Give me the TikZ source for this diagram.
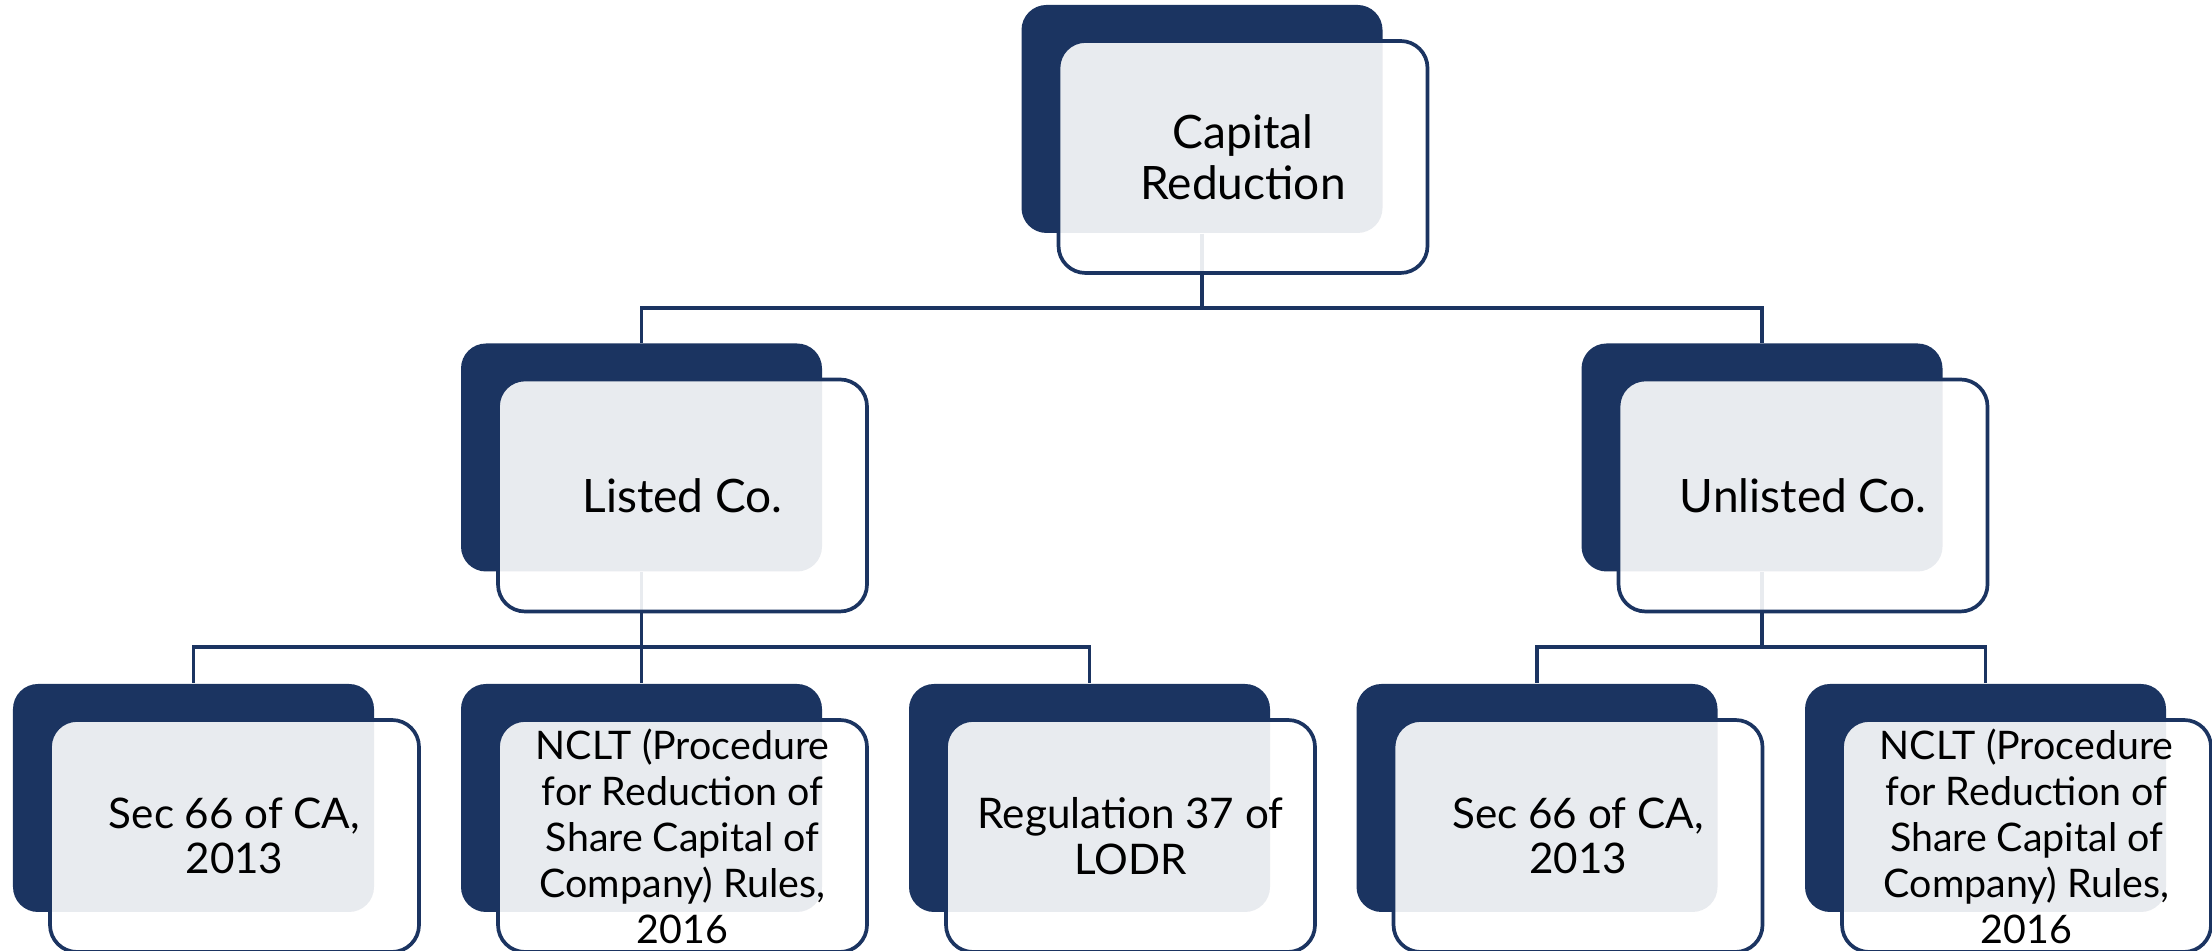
\documentclass[tikz,border=0pt]{standalone}
\usepackage{fontspec}
\setmainfont{Lato}
\definecolor{sadark}{RGB}{27,52,97}

\begin{document}
\begin{tikzpicture}[
    back/.style={rectangle, rounded corners=0.25cm, fill=sadark,
      minimum width=3.61cm, minimum height=2.28cm, inner sep=0pt},
    front/.style={rectangle, rounded corners=0.27cm, draw=sadark, line width=1.05pt,
      fill=white, fill opacity=0.9, text opacity=1,
      minimum width=3.69cm, minimum height=2.32cm, inner sep=0pt, align=center},
    big/.style={font=\fontsize{13.1}{14.5}\selectfont},
    small/.style={font=\fontsize{12}{12.9}\selectfont},
    rules/.style={font=\fontsize{11.2}{13.1}\selectfont},
    link/.style={draw=sadark, line width=1.05pt}]
  \useasboundingbox (0,0) rectangle (22.12,9.51);
  % dark back plates
  \node[back] (CRb) at (12.02, 8.32) {};
  \node[back] (LCb) at (6.415, 4.935) {};
  \node[back] (UCb) at (17.62, 4.935) {};
  \node[back] (S1b) at (1.935, 1.53) {};
  \node[back] (N1b) at (6.415, 1.53) {};
  \node[back] (RGb) at (10.895, 1.53) {};
  \node[back] (S2b) at (15.37, 1.53) {};
  \node[back] (N2b) at (19.855, 1.53) {};
  % connectors
  \draw[link] (CRb.south) -- ++(0,-0.74) coordinate (CRj) -| (LCb.north);
  \draw[link] (CRj) -| (UCb.north);
  \draw[link] (LCb.south) -- ++(0,-0.75) coordinate (LCj) -| (S1b.north);
  \draw[link] (LCj) -- (N1b.north);
  \draw[link] (LCj) -| (RGb.north);
  \draw[link] (UCb.south) -- ++(0,-0.75) coordinate (UCj) -| (S2b.north);
  \draw[link] (UCj) -| (N2b.north);
  % front cards
  \node[front, big] (CR) at (12.43, 7.94) {Capital\\Reduction};
  \node[front, big] (LC) at (6.825, 4.555) {Listed Co.};
  \node[front, big] (UC) at (18.03, 4.555) {Unlisted Co.};
  \node[front, small] (S1) at (2.345, 1.15) {Sec 66 of CA,\\2013};
  \node[front, rules] (N1) at (6.825, 1.15) {NCLT (Procedure\\for Reduction of\\Share Capital of\\Company) Rules,\\2016};
  \node[front, small] (RG) at (11.305, 1.15) {Regulation 37 of\\LODR};
  \node[front, small] (S2) at (15.78, 1.15) {Sec 66 of CA,\\2013};
  \node[front, rules] (N2) at (20.265, 1.15) {NCLT (Procedure\\for Reduction of\\Share Capital of\\Company) Rules,\\2016};
\end{tikzpicture}
\end{document}
